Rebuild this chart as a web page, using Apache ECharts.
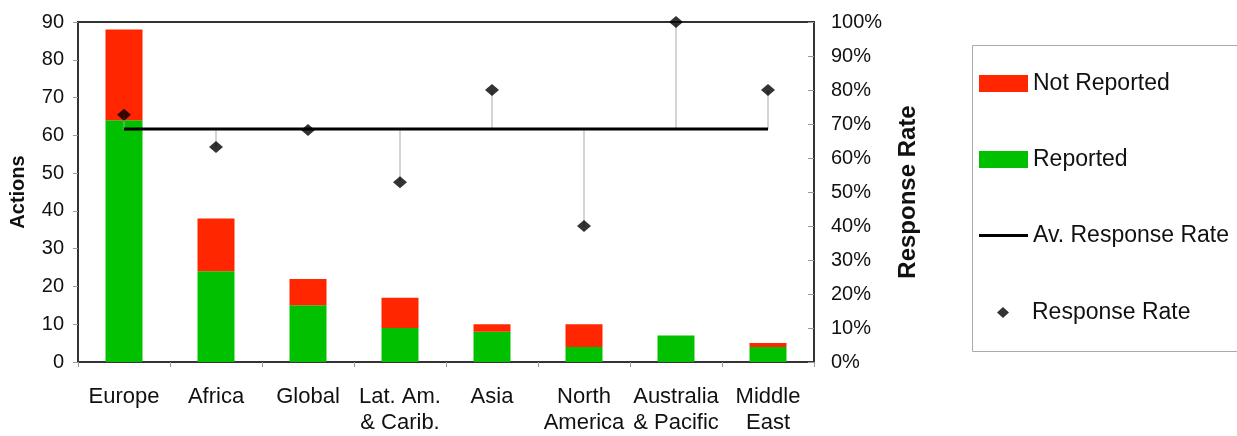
<!DOCTYPE html>
<html>
<head>
<meta charset="utf-8">
<script src="https://cdn.jsdelivr.net/npm/echarts@6/dist/echarts.min.js"></script>
<style>html,body{margin:0;padding:0;background:#fff}#c{width:1237px;height:436px}</style>
</head>
<body>
<div id="c"></div>
<script>
const categories = ['Europe', 'Africa', 'Global', 'Lat. Am.\n& Carib.', 'Asia', 'North\nAmerica', 'Australia\n& Pacific', 'Middle\nEast'];
const reported = [64, 24, 15, 9, 8, 4, 7, 4];
const notReported = [24, 14, 7, 8, 2, 6, 0, 1];
const responseRate = [72.7, 63.2, 68.2, 52.9, 80, 40, 100, 80];
const avgResponseRate = 68.5;
const leftTicks = [0, 10, 20, 30, 40, 50, 60, 70, 80, 90];
const rightTicks = [0, 10, 20, 30, 40, 50, 60, 70, 80, 90, 100];

const FONT = "'Liberation Sans', Arial, sans-serif";
const chart = echarts.init(document.getElementById('c'), null, {renderer: 'canvas'});

const avgData = categories.map(() => avgResponseRate);
const dropData = responseRate.map((v, i) => [i, v]);

chart.setOption({
  animation: false,
  textStyle: {fontFamily: FONT, color: '#111'},
  grid: {left: 77, right: 423, top: 22, bottom: 73, show: true, borderColor: '#333', borderWidth: 2, containLabel: false},
  legend: [{
    orient: 'vertical', left: 979, top: 72, padding: 0,
    itemWidth: 49, itemHeight: 17, itemGap: 53,
    textStyle: {fontFamily: FONT, fontSize: 23, color: '#111'},
    selectedMode: false,
    data: [
      {name: 'Not Reported', icon: 'rect'},
      {name: 'Reported', icon: 'rect'},
      {name: 'Av. Response Rate', icon: 'path://M0,0 L49,0 L49,3 L0,3 Z', itemStyle: {color: '#000'}}
    ]
  }, {
    orient: 'vertical', left: 997, top: 301, padding: 0,
    itemWidth: 12, itemHeight: 11,
    textStyle: {fontFamily: FONT, fontSize: 23, color: '#111', rich: {a: {fontFamily: FONT, fontSize: 23, color: '#111', padding: [0, 0, 0, 18]}}},
    formatter: n => '{a|' + n + '}',
    selectedMode: false,
    data: [{name: 'Response Rate', icon: 'diamond'}]
  }],
  graphic: [{
    type: 'rect', left: 970, top: 43, silent: true,
    shape: {width: 265, height: 306},
    style: {fill: 'none', stroke: '#aaa', lineWidth: 1}
  }],
  xAxis: {
    type: 'category', data: categories,
    axisLine: {lineStyle: {color: '#333', width: 2}},
    axisTick: {show: true, alignWithLabel: false, interval: 0, length: 5, lineStyle: {color: '#999', width: 1}},
    axisLabel: {interval: 0, fontFamily: FONT, fontSize: 22, color: '#111', margin: 22, lineHeight: 26}
  },
  yAxis: [{
    type: 'value', min: 0, max: 90, interval: 10,
    name: 'Actions', nameLocation: 'middle', nameRotate: 90, nameGap: 50,
    nameTextStyle: {fontFamily: FONT, fontSize: 20, fontWeight: 'bold', color: '#111'},
    axisLine: {show: true, lineStyle: {color: '#333', width: 2}},
    axisTick: {show: true, inside: false, length: 5, lineStyle: {color: '#999'}},
    splitLine: {show: false},
    axisLabel: {fontFamily: FONT, fontSize: 20, color: '#111', margin: 14,
      formatter: v => leftTicks.includes(v) ? String(v) : ''}
  }, {
    type: 'value', min: 0, max: 100, interval: 10,
    name: 'Response Rate', nameLocation: 'middle', nameRotate: 90, nameGap: 82,
    nameTextStyle: {fontFamily: FONT, fontSize: 24, fontWeight: 'bold', color: '#111'},
    axisLine: {show: true, lineStyle: {color: '#333', width: 2}},
    axisTick: {show: true, inside: true, length: 6, lineStyle: {color: '#999'}},
    splitLine: {show: false},
    axisLabel: {fontFamily: FONT, fontSize: 20, color: '#111', margin: 17,
      formatter: v => rightTicks.includes(v) ? v + '%' : ''}
  }],
  series: [{
    name: 'Reported', type: 'bar', stack: 'a', data: reported, barWidth: 37,
    itemStyle: {color: '#00c000'}
  }, {
    name: 'Not Reported', type: 'bar', stack: 'a', data: notReported, barWidth: 37,
    itemStyle: {color: '#ff2600'}
  }, {
    name: 'drop', type: 'custom', yAxisIndex: 1, data: dropData, z: 3,
    renderItem: (params, api) => {
      const a = api.coord([api.value(0), avgResponseRate]);
      const b = api.coord([api.value(0), api.value(1)]);
      return {type: 'line', shape: {x1: a[0], y1: a[1], x2: b[0], y2: b[1]},
        style: {stroke: '#aaa', lineWidth: 1}};
    }
  }, {
    name: 'Av. Response Rate', type: 'line', yAxisIndex: 1, data: avgData,
    symbol: 'none', lineStyle: {color: '#000', width: 3}, itemStyle: {color: '#000'}, z: 4
  }, {
    name: 'Response Rate', type: 'scatter', yAxisIndex: 1, data: responseRate,
    symbol: 'diamond', symbolSize: [14, 12], itemStyle: {color: '#000'}, z: 5
  }]
});
</script>
</body>
</html>
